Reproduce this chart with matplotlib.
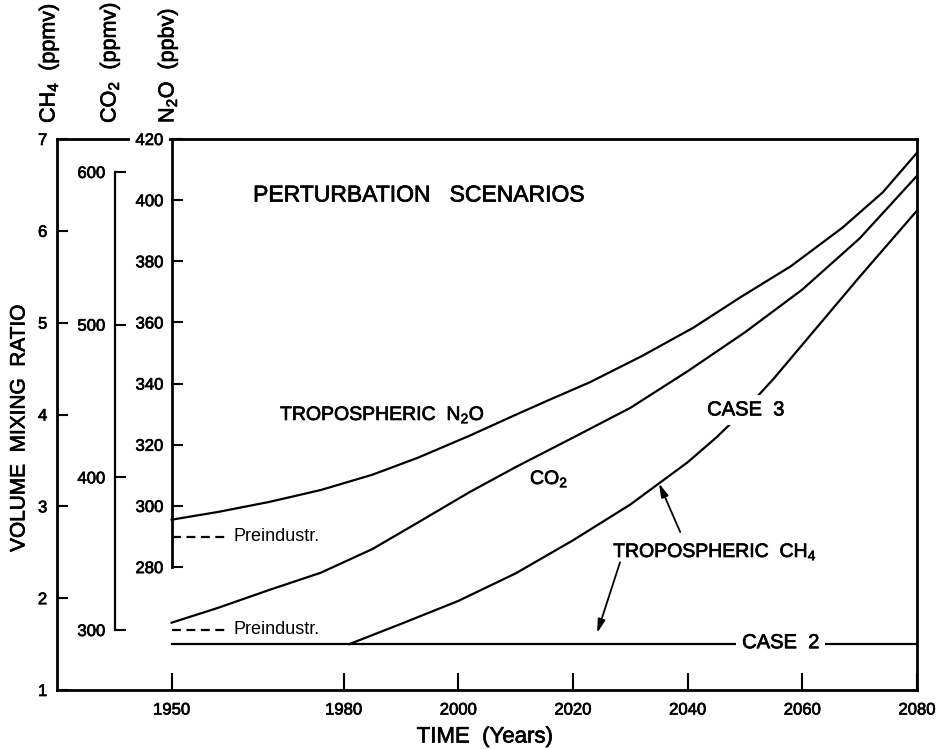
import numpy as np
import matplotlib
matplotlib.use("Agg")
import matplotlib.pyplot as plt
import matplotlib.patheffects as pe

plt.rcParams['font.family'] = ['Liberation Sans', 'DejaVu Sans']
plt.rcParams['mathtext.fontset'] = 'custom'
plt.rcParams['mathtext.rm'] = 'Liberation Sans'

# ---- data -------------------------------------------------------------
n2o_years = [1950, 1958, 1967, 1976, 1985, 1993, 2002, 2010, 2016, 2023, 2032,
             2041, 2049, 2058, 2067, 2074, 2080]
n2o_ppbv = [295.5, 298.0, 301.3, 305.2, 310.2, 315.8, 323.0, 329.8, 334.8, 340.5, 349.0,
            358.3, 368.0, 378.4, 391.0, 402.5, 415.5]

co2_years = [1950, 1958, 1967, 1976, 1985, 1993, 2002, 2010, 2020, 2030, 2040,
             2050, 2060, 2070, 2080]
co2_ppmv = [304.8, 314.4, 326.2, 337.5, 353.0, 370.5, 390.4, 406.7, 426.0, 445.5, 469.5,
            495.0, 523.0, 556.5, 597.5]

ch4_case3_years = [1981, 1990, 2000, 2010, 2020, 2030, 2040, 2045, 2050, 2055,
                   2060, 2070, 2080]
ch4_case3_ppmv = [1.50, 1.72, 1.97, 2.27, 2.63, 3.02, 3.48, 3.75, 4.05, 4.39,
                  4.76, 5.50, 6.22]

ch4_case2_years = [1950, 2080]
ch4_case2_ppmv = [1.50, 1.50]

preind_years = [1950, 1959.8]
n2o_preind = 290.0
co2_preind = 300.0

x_ticks = [1950, 1980, 2000, 2020, 2040, 2060, 2080]
ch4_ticks = [1, 2, 3, 4, 5, 6, 7]
co2_ticks = [300, 400, 500, 600]
n2o_ticks = [280, 300, 320, 340, 360, 380, 400, 420]

# ---- figure -----------------------------------------------------------
W, H = 936, 749
fig = plt.figure(figsize=(W / 100, H / 100), dpi=100)
L, R, T, B = 57, 917, 139, 690
ax = fig.add_axes([L / W, 1 - B / H, (R - L) / W, (B - T) / H])

LW = 1.6
SPW = 2.0
TICKFS = 12
heavy = [pe.withStroke(linewidth=0.5, foreground='black')]

ax.set_xlim(1930, 2080)
ax.set_ylim(1, 7)
for s in ax.spines.values():
    s.set_linewidth(SPW)
ax.set_xticks(x_ticks)
ax.set_xticklabels([str(y) for y in x_ticks], fontsize=TICKFS)
ax.set_yticks(ch4_ticks)
ax.set_yticklabels([str(v) for v in ch4_ticks], fontsize=TICKFS)
ax.tick_params(axis='x', direction='in', length=12, width=1.5, pad=9)
ax.tick_params(axis='y', direction='in', length=8, width=1.5, pad=7)

# CO2 scale
ax2 = ax.twinx()
ax2.set_ylim(260.7, 621.6)
for k in ('top', 'right', 'bottom'):
    ax2.spines[k].set_visible(False)
ax2.spines['left'].set_position(('data', 1940.1))
ax2.spines['left'].set_bounds(300, 600)
ax2.spines['left'].set_linewidth(SPW * 0.8)
ax2.yaxis.set_ticks_position('left')
ax2.set_yticks(co2_ticks)
ax2.set_yticklabels([str(v) for v in co2_ticks], fontsize=TICKFS)
ax2.tick_params(axis='y', direction='in', length=8, width=1.5, pad=7)

# N2O scale
ax3 = ax.twinx()
ax3.set_ylim(239.8, 420)
for k in ('top', 'right', 'bottom'):
    ax3.spines[k].set_visible(False)
ax3.spines['left'].set_position(('data', 1950))
ax3.spines['left'].set_bounds(280, 420)
ax3.spines['left'].set_linewidth(SPW)
ax3.yaxis.set_ticks_position('left')
ax3.set_yticks(n2o_ticks)
lbls = ax3.set_yticklabels([str(v) for v in n2o_ticks], fontsize=TICKFS)
ax3.tick_params(axis='y', direction='in', length=8, width=1.5, pad=6)
for t in lbls:
    if t.get_text() == '420':
        t.set_bbox(dict(facecolor='white', edgecolor='none', pad=4))

for a in (ax, ax2, ax3):
    for t in a.get_xticklabels() + a.get_yticklabels():
        t.set_path_effects(heavy)

# ---- curves -----------------------------------------------------------
ax3.plot(n2o_years, n2o_ppbv, color='black', lw=LW, solid_joinstyle='round')
ax2.plot(co2_years, co2_ppmv, color='black', lw=LW, solid_joinstyle='round')
ax.plot(ch4_case2_years, ch4_case2_ppmv, color='black', lw=LW, zorder=2)
ax.plot(ch4_case3_years, ch4_case3_ppmv, color='black', lw=LW, zorder=2,
        solid_joinstyle='round')

ax3.plot(preind_years, [n2o_preind] * 2, color='black', lw=LW, ls=(0, (4, 2.5)))
ax2.plot(preind_years, [co2_preind] * 2, color='black', lw=LW, ls=(0, (4, 2.5)))
ax3.text(1960.7, n2o_preind, 'Preindustr.', fontsize=13, va='center', ha='left')
ax2.text(1960.7, co2_preind, 'Preindustr.', fontsize=13, va='center', ha='left')

# ---- labels -----------------------------------------------------------
ax.text(1964.2, 6.39, 'PERTURBATION   SCENARIOS', fontsize=16.5, va='center', ha='left',
        path_effects=heavy)
ax.text(1968.9, 3.94, r'TROPOSPHERIC  N$_{\mathregular{2}}$O', fontsize=14, va='baseline',
        ha='left', path_effects=heavy)
ax.text(2012.5, 3.243, r'CO$_{\mathregular{2}}$', fontsize=14, va='baseline', ha='left',
        path_effects=heavy)
ax.text(2027.0, 2.448, r'TROPOSPHERIC  CH$_{\mathregular{4}}$', fontsize=14, va='baseline',
        ha='left', path_effects=heavy)
wb = dict(facecolor='white', edgecolor='none', pad=4)
ax.text(2043.4, 4.05, 'CASE  3', fontsize=14.5, va='center', ha='left', bbox=wb, zorder=5,
        path_effects=heavy)
ax.text(2049.5, 1.515, 'CASE  2', fontsize=14.5, va='center', ha='left', bbox=wb, zorder=5,
        path_effects=heavy)

arrow = dict(arrowstyle='-|>,head_length=0.8,head_width=0.22', color='black', lw=1.3,
             shrinkA=0, shrinkB=0)
ax.annotate('', xy=(2035, np.interp(2035, ch4_case3_years, ch4_case3_ppmv)),
            xytext=(2038.7, 2.72), arrowprops=arrow)
ax.annotate('', xy=(2024.2, 1.62), xytext=(2028.2, 2.39), arrowprops=arrow)

fig.text(19 / W, 1 - 428 / H, 'VOLUME  MIXING  RATIO', rotation=90, fontsize=15,
         ha='center', va='center', path_effects=heavy)
fig.text(485 / W, 1 - 737 / H, 'TIME  (Years)', fontsize=16, ha='center', va='center',
         path_effects=heavy)

for xp, s in ((49, r'CH$_{\mathregular{4}}$  (ppmv)'),
              (110, r'CO$_{\mathregular{2}}$  (ppmv)'),
              (168, r'N$_{\mathregular{2}}$O  (ppbv)')):
    fig.text(xp / W, 1 - 123 / H, s, rotation=90, fontsize=15.5, ha='center', va='bottom',
             path_effects=heavy)

fig.savefig('out.png', dpi=100)
